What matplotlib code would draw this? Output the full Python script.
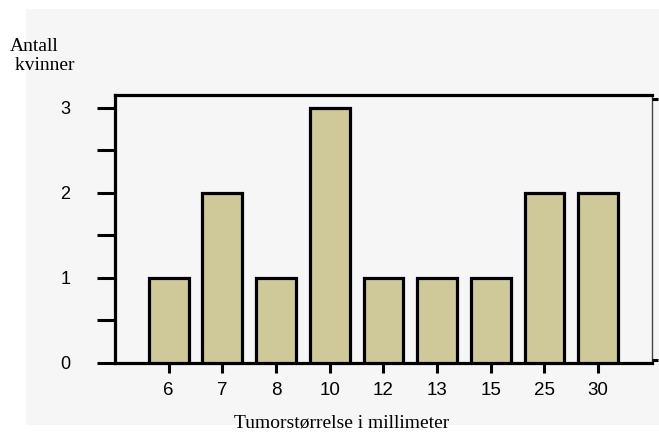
import numpy as np
import matplotlib.pyplot as plt
from matplotlib.patches import Rectangle

# tumour sizes (mm) and number of women
sizes = ['6', '7', '8', '10', '12', '13', '15', '25', '30']
counts = [1, 2, 1, 3, 1, 1, 1, 2, 2]

bg = '#f6f6f6'
bar_color = '#cfc99a'

fig = plt.figure(figsize=(6.59, 4.33), dpi=100)
fig.patch.set_facecolor('white')
# light grey panel behind the chart
fig.patches.append(Rectangle((0.039, 0.018), 0.961, 0.961, transform=fig.transFigure,
                             facecolor=bg, edgecolor='none', zorder=-10))

ax = fig.add_axes([0.1745, 0.1617, 0.8145, 0.619])
ax.set_facecolor(bg)

x = np.arange(len(sizes))
ax.bar(x, counts, width=0.74, color=bar_color, edgecolor='black', linewidth=2.3, zorder=3)

ax.set_xlim(-1, 9)
ax.set_ylim(0, 3.15)

ax.set_xticks(x)
ax.set_xticklabels(sizes, family='Liberation Sans', fontsize=13.5)
ax.set_yticks([0, 1, 2, 3])
ax.set_yticklabels(['0', '1', '2', '3'], family='Liberation Sans', fontsize=13)
ax.set_yticks([0.5, 1.5, 2.5], minor=True)

ax.tick_params(axis='y', which='both', direction='out', length=13, width=2.2, pad=19)
ax.tick_params(axis='x', direction='out', length=7, width=2.2, pad=7)

for side in ['left', 'top', 'bottom']:
    ax.spines[side].set_linewidth(2.3)
ax.spines['right'].set_linewidth(1.0)
ax.spines['right'].set_color('#444444')

# small ticks on the right edge
ax2 = ax.twinx()
ax2.set_ylim(0, 3.15)
ax2.set_yticks([0.04, 3.1])
ax2.set_yticklabels([])
ax2.tick_params(axis='y', direction='out', length=4, width=2.2)
for side in ['left', 'top', 'bottom', 'right']:
    ax2.spines[side].set_visible(False)

ax.set_xlabel('Tumorstørrelse i millimeter', family='Liberation Serif', fontsize=14)
ax.xaxis.set_label_coords(0.423, -0.193)
fig.text(0.015, 0.912, 'Antall\n kvinner', family='Liberation Serif', fontsize=14,
         ha='left', va='top', linespacing=1.15)

fig.savefig('out.png', dpi=100)
